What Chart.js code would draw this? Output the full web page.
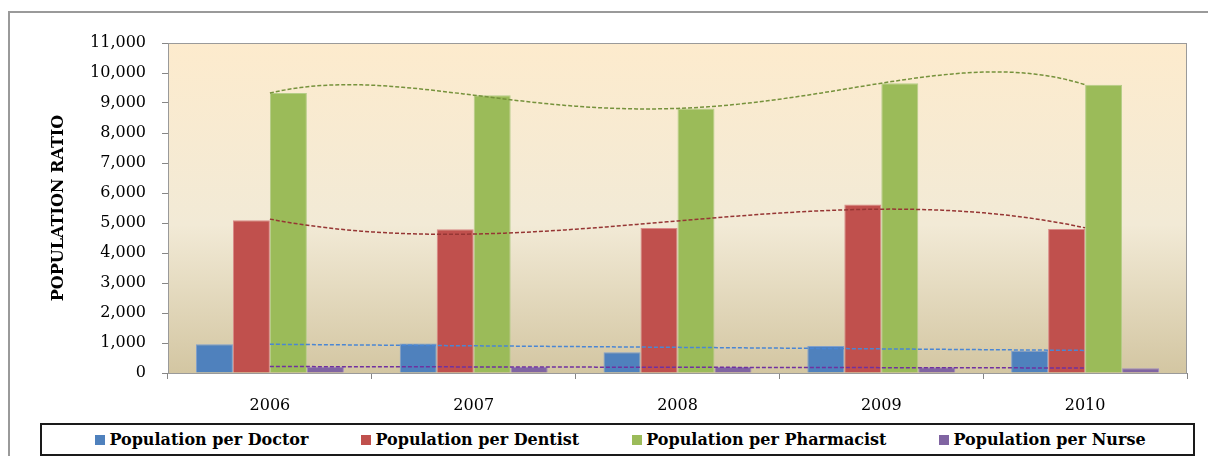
<!DOCTYPE html>
<html>
<head>
<meta charset="utf-8">
<script src="https://cdn.jsdelivr.net/npm/chart.js@4.4.0/dist/chart.umd.min.js"></script>
<style>
  html, body { margin: 0; padding: 0; background: #fff; overflow: hidden; }
  #wrap { position: relative; width: 1208px; height: 456px; overflow: hidden; }
  #frame { position: absolute; left: 8px; top: 11px; width: 1300px; height: 600px; border: 2px solid #9a9a9a; box-sizing: border-box; }
  #chart { position: absolute; left: 0; top: 0; }
  #legend { position: absolute; left: 40px; top: 423px; width: 1155px; height: 33px; box-sizing: border-box;
            border: 2px solid #1a1a1a; display: flex; justify-content: center; align-items: center; gap: 53px;
            padding-left: 6px; font: bold 16px "DejaVu Serif", serif; color: #000; background: #fff; }
  #legend span.item { display: flex; align-items: center; white-space: nowrap; }
  #legend i { display: inline-block; width: 10px; height: 10px; margin-right: 4px; }
</style>
</head>
<body>
<div id="wrap">
  <div id="frame"></div>
  <canvas id="chart" width="1208" height="456"></canvas>
  <div id="legend"></div>
</div>
<script>
// data
var years = ['2006', '2007', '2008', '2009', '2010'];
var perDoctor = [960, 980, 690, 900, 745];
var perDentist = [5090, 4790, 4830, 5620, 4800];
var perPharmacist = [9330, 9260, 8820, 9660, 9610];
var perNurse = [210, 200, 200, 190, 155];
var seriesNames = ['Population per Doctor', 'Population per Dentist', 'Population per Pharmacist', 'Population per Nurse'];
var trendOrders = [1, 3, 4, 1]; // polynomial trendline order per series
var yMax = 11000;
var yStep = 1000;

var barColors = ['#4F81BD', '#C0504D', '#9BBB59', '#8064A2'];
var barEdges = ['#7F9FCC', '#D98A88', '#B5CD88', '#A08CBC'];
var trendColors = ['#4A86D4', '#963634', '#76923C', '#7030A0'];

var allSeries = [perDoctor, perDentist, perPharmacist, perNurse];

// least squares polynomial fit on x = 0..n-1
function polyFit(vals, order) {
  var n = order + 1, A = [], i, j, k;
  for (i = 0; i < n; i++) {
    A.push([]);
    for (j = 0; j <= n; j++) A[i].push(0);
  }
  vals.forEach(function (y, x) {
    for (i = 0; i < n; i++) {
      for (j = 0; j < n; j++) A[i][j] += Math.pow(x, i + j);
      A[i][n] += y * Math.pow(x, i);
    }
  });
  for (i = 0; i < n; i++) {
    var p = i;
    for (k = i + 1; k < n; k++) if (Math.abs(A[k][i]) > Math.abs(A[p][i])) p = k;
    var t = A[i]; A[i] = A[p]; A[p] = t;
    for (k = i + 1; k < n; k++) {
      var f = A[k][i] / A[i][i];
      for (j = i; j <= n; j++) A[k][j] -= f * A[i][j];
    }
  }
  var c = new Array(n);
  for (i = n - 1; i >= 0; i--) {
    var s = A[i][n];
    for (j = i + 1; j < n; j++) s -= A[i][j] * c[j];
    c[i] = s / A[i][i];
  }
  return c;
}

var datasets = allSeries.map(function (vals, i) {
  return {
    label: seriesNames[i],
    data: vals,
    backgroundColor: barColors[i],
    borderColor: barEdges[i],
    borderWidth: 1,
    barPercentage: 1,
    categoryPercentage: 0.726
  };
});

// plot area fill and frame
var plotArea = {
  id: 'plotArea',
  beforeDraw: function (chart) {
    var a = chart.chartArea, ctx = chart.ctx;
    var g = ctx.createLinearGradient(0, a.top, 0, a.bottom);
    g.addColorStop(0, '#FDEBCD');
    g.addColorStop(0.55, '#F2EAD6');
    g.addColorStop(1, '#D3C6A2');
    ctx.save();
    ctx.fillStyle = g;
    ctx.fillRect(a.left, a.top, a.right - a.left, a.bottom - a.top);
    ctx.restore();
  },
  afterDraw: function (chart) {
    var a = chart.chartArea, ctx = chart.ctx;
    ctx.save();
    ctx.strokeStyle = '#9a9a9a';
    ctx.lineWidth = 1;
    ctx.strokeRect(a.left + 0.5, a.top + 0.5, a.right - a.left - 1, a.bottom - a.top);
    ctx.restore();
  }
};

// dashed polynomial trendlines, plotted through the x/y scales
var trendLines = {
  id: 'trendLines',
  afterDatasetsDraw: function (chart) {
    var ctx = chart.ctx, xs = chart.scales.x, ys = chart.scales.y;
    ctx.save();
    ctx.lineWidth = 1.5;
    ctx.setLineDash([4, 2]);
    allSeries.forEach(function (vals, i) {
      var c = polyFit(vals, trendOrders[i]);
      ctx.strokeStyle = trendColors[i];
      ctx.beginPath();
      for (var s = 0; s <= (vals.length - 1) * 20; s++) {
        var x = s / 20, y = 0;
        for (var k = 0; k < c.length; k++) y += c[k] * Math.pow(x, k);
        var px = xs.getPixelForValue(x), py = ys.getPixelForValue(y);
        if (s === 0) ctx.moveTo(px, py); else ctx.lineTo(px, py);
      }
      ctx.stroke();
    });
    ctx.restore();
  }
};

var ctx = document.getElementById('chart').getContext('2d');
var chart = new Chart(ctx, {
  type: 'bar',
  data: { labels: years, datasets: datasets },
  plugins: [plotArea, trendLines],
  options: {
    responsive: false,
    animation: false,
    layout: { padding: { top: 43, right: 21, bottom: 43, left: 0 } },
    plugins: { legend: { display: false }, tooltip: { enabled: false } },
    scales: {
      x: {
        offset: true,
        grid: { display: true, offset: true, drawOnChartArea: false, drawTicks: true, tickLength: 6, color: '#868686' },
        border: { color: '#868686', width: 1 },
        ticks: { color: '#000', padding: 17, font: { family: 'DejaVu Serif', size: 16 } },
        afterFit: function (scale) { scale.height = 40; }
      },
      y: {
        min: 0,
        max: yMax,
        grid: { display: true, drawOnChartArea: false, drawTicks: true, tickLength: 6, color: '#868686' },
        border: { color: '#868686', width: 1 },
        ticks: {
          stepSize: yStep,
          color: '#000',
          padding: 16,
          font: { family: 'DejaVu Serif', size: 16 },
          callback: function (v) { return v.toLocaleString('en-US'); }
        },
        title: {
          display: true,
          text: 'POPULATION RATIO',
          color: '#000',
          font: { family: 'DejaVu Serif', size: 16, weight: 'bold' },
          padding: { top: 49, bottom: 0 }
        },
        afterFit: function (scale) { scale.width = 168; }
      }
    }
  }
});

// legend
var legend = document.getElementById('legend');
seriesNames.forEach(function (name, i) {
  var item = document.createElement('span');
  item.className = 'item';
  var sw = document.createElement('i');
  sw.style.background = barColors[i];
  item.appendChild(sw);
  item.appendChild(document.createTextNode(name));
  legend.appendChild(item);
});
</script>
</body>
</html>
